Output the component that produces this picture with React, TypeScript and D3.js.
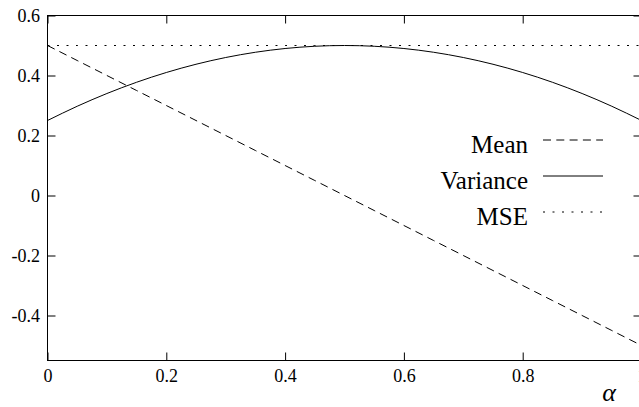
import React, { useEffect, useRef } from 'react';
import * as d3 from 'd3';

// alpha samples and series
const alphas = [0, 0.05, 0.1, 0.15, 0.2, 0.25, 0.3, 0.35, 0.4, 0.45, 0.5, 0.55, 0.6, 0.65, 0.7, 0.75, 0.8, 0.85, 0.9, 0.95, 1];
const meanValues = [0.5, 0.45, 0.4, 0.35, 0.3, 0.25, 0.2, 0.15, 0.1, 0.05, 0, -0.05, -0.1, -0.15, -0.2, -0.25, -0.3, -0.35, -0.4, -0.45, -0.5];
const varianceValues = [0.25, 0.2975, 0.34, 0.3775, 0.41, 0.4375, 0.46, 0.4775, 0.49, 0.4975, 0.5, 0.4975, 0.49, 0.4775, 0.46, 0.4375, 0.41, 0.3775, 0.34, 0.2975, 0.25];
const mseValues = [0.5, 0.5, 0.5, 0.5, 0.5, 0.5, 0.5, 0.5, 0.5, 0.5, 0.5, 0.5, 0.5, 0.5, 0.5, 0.5, 0.5, 0.5, 0.5, 0.5, 0.5];

const xTicks = [0, 0.2, 0.4, 0.6, 0.8, 1];
const yTicks = [-0.4, -0.2, 0, 0.2, 0.4, 0.6];

const seriesNames = ['Mean', 'Variance', 'MSE'];
const seriesDash = ['8,5.3', null, '2,7.5'];

const W = 639;
const H = 407;
const FONT = 'Liberation Serif, Times New Roman, Times, DejaVu Serif, serif';

export default function App() {
  const svgRef = useRef<SVGSVGElement>(null);

  useEffect(() => {
    const svg = d3.select(svgRef.current);
    svg.selectAll('*').remove();

    const x = d3.scaleLinear().domain([0, 1]).range([47.5, 641.5]);
    const y = d3.scaleLinear().domain([-0.55, 0.6]).range([360.5, 15.5]);

    const [x0, x1] = x.range();
    const [yb, yt] = y.range();

    // axes, ticks pointing inwards like gnuplot
    const fmt = (d: d3.NumberValue) => String(+d);
    const bottom = svg.append('g').attr('transform', `translate(0,${yb})`)
      .call(d3.axisBottom(x).tickValues(xTicks).tickSize(-8).tickPadding(8.5).tickFormat(fmt));
    const left = svg.append('g').attr('transform', `translate(${x0},0)`)
      .call(d3.axisLeft(y).tickValues(yTicks).tickSize(-8).tickPadding(7.5).tickFormat(fmt));
    svg.append('g').attr('transform', `translate(0,${yt})`)
      .call(d3.axisTop(x).tickValues(xTicks).tickSize(-8).tickFormat(() => ''));
    svg.append('g').attr('transform', `translate(${x1},0)`)
      .call(d3.axisRight(y).tickValues(yTicks).tickSize(-8).tickFormat(() => ''));

    svg.selectAll('.domain').remove();
    svg.selectAll('g').attr('font-family', null).attr('font-size', null);
    svg.selectAll('.tick line').attr('stroke', '#000').attr('stroke-width', 1);
    [bottom, left].forEach(g => g.selectAll('text')
      .style('font-size', '18px').attr('fill', '#000'));

    // frame
    svg.append('rect')
      .attr('x', x0).attr('y', yt)
      .attr('width', x1 - x0).attr('height', yb - yt)
      .attr('fill', 'none').attr('stroke', '#000').attr('stroke-width', 1);

    // curves
    const seriesData = [meanValues, varianceValues, mseValues];
    const line = d3.line<number>()
      .x((_, i) => x(alphas[i]))
      .y(d => y(d))
      .curve(d3.curveMonotoneX);

    seriesData.forEach((vals, i) => {
      svg.append('path')
        .datum(vals)
        .attr('d', line)
        .attr('fill', 'none')
        .attr('stroke', '#000')
        .attr('stroke-width', 1)
        .attr('stroke-dasharray', seriesDash[i]);
    });

    // legend
    const legend = svg.append('g');
    seriesNames.forEach((name, i) => {
      const base = 152.5 + i * 36;
      legend.append('text')
        .attr('x', 528).attr('y', base)
        .attr('text-anchor', 'end')
        .style('font-size', '25px')
        .attr('fill', '#000')
        .text(name);
      legend.append('line')
        .attr('x1', 543).attr('x2', 603)
        .attr('y1', base - 12.5).attr('y2', base - 12.5)
        .attr('stroke', '#000').attr('stroke-width', 1)
        .attr('stroke-dasharray', seriesDash[i]);
    });

    // axis label
    svg.append('text')
      .attr('x', 609).attr('y', 401)
      .attr('text-anchor', 'middle')
      .style('font-size', '26px')
      .style('font-style', 'italic')
      .attr('fill', '#000')
      .text('α');
  }, []);

  return (
    <svg
      ref={svgRef}
      width={W}
      height={H}
      style={{ position: 'absolute', left: 0, top: 0, background: '#fff', display: 'block', fontFamily: FONT }}
    />
  );
}
